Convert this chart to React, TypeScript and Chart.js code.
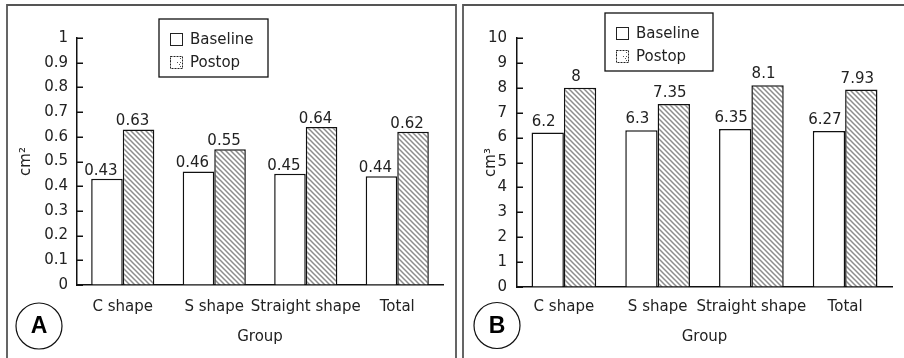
import React, { useEffect, useRef } from "react";
import { Chart, registerables } from "chart.js";

Chart.register(...registerables);

const categories = ["C shape", "S shape", "Straight shape", "Total"];
const seriesNames = ["Baseline", "Postop"];
const areaBaseline = [0.43, 0.46, 0.45, 0.44];
const areaPostop = [0.63, 0.55, 0.64, 0.62];
const volumeBaseline = [6.2, 6.3, 6.35, 6.27];
const volumePostop = [8, 7.35, 8.1, 7.93];
const areaAxis = { min: 0, max: 1, step: 0.1, title: "cm²" };
const volumeAxis = { min: 0, max: 10, step: 1, title: "cm³" };
const xTitle = "Group";

const FONT_FAMILY = '"DejaVu Sans", sans-serif';
const FONT_SIZE = 15;
const TEXT_COLOR = "#222";
const LINE_COLOR = "#111";

function makeHatch(): CanvasPattern | string {
  const c = document.createElement("canvas");
  const s = 5;
  c.width = s;
  c.height = s;
  const g = c.getContext("2d");
  if (!g) return "#ccc";
  g.fillStyle = "#fff";
  g.fillRect(0, 0, s, s);
  g.strokeStyle = "#8c8c8c";
  g.lineWidth = 1.5;
  g.beginPath();
  g.moveTo(-1, -1);
  g.lineTo(s + 1, s + 1);
  g.moveTo(-1 - s, -1);
  g.lineTo(1, s + 1);
  g.moveTo(s - 1, -1);
  g.lineTo(2 * s + 1, s + 1);
  g.stroke();
  const p = g.createPattern(c, "repeat");
  return p || "#ccc";
}

type PanelCfg = {
  letter: string;
  canvasWidth: number;
  frame: { left: number; top: number; right: number | null };
  legend: { x: number; y: number; w: number; h: number };
  circle: { x: number; y: number; r: number };
  labelDx: number;
  labelGap: number;
  plotLeft: number;
  plotRight: number;
  plotTop: number;
  plotBottom: number;
  yTickPad: number;
  yTitlePad: number;
  xTickPad: number;
  xTitlePad: number;
  axis: { min: number; max: number; step: number; title: string };
  baseline: number[];
  postop: number[];
  decimals: number;
};

function makePlugin(cfg: PanelCfg) {
  return {
    id: "panelDecor" + cfg.letter,
    afterDraw(chart: any) {
      const ctx: CanvasRenderingContext2D = chart.ctx;
      const H = chart.height;
      ctx.save();
      // frame
      ctx.strokeStyle = "#555";
      ctx.lineWidth = 1.8;
      ctx.beginPath();
      ctx.moveTo(cfg.frame.left, H + 2);
      ctx.lineTo(cfg.frame.left, cfg.frame.top);
      if (cfg.frame.right !== null) {
        ctx.lineTo(cfg.frame.right, cfg.frame.top);
        ctx.lineTo(cfg.frame.right, H + 2);
      } else {
        ctx.lineTo(chart.width + 2, cfg.frame.top);
      }
      ctx.stroke();

      // inward y ticks
      const ys = chart.scales.y;
      const ax = chart.chartArea.left;
      ctx.strokeStyle = LINE_COLOR;
      ctx.lineWidth = 1.5;
      ctx.beginPath();
      ys.ticks.forEach((_t: any, i: number) => {
        const py = Math.round(ys.getPixelForTick(i)) + 0.25;
        ctx.moveTo(ax, py);
        ctx.lineTo(ax + 6, py);
      });
      ctx.stroke();

      // value labels
      ctx.font = `${FONT_SIZE}px ${FONT_FAMILY}`;
      ctx.fillStyle = TEXT_COLOR;
      ctx.textAlign = "center";
      ctx.textBaseline = "alphabetic";
      chart.data.datasets.forEach((ds: any, di: number) => {
        const meta = chart.getDatasetMeta(di);
        meta.data.forEach((bar: any, i: number) => {
          const v = ds.data[i];
          ctx.fillText(String(v), bar.x + cfg.labelDx, bar.y - cfg.labelGap);
        });
      });

      // legend
      const L = cfg.legend;
      ctx.strokeStyle = "#111";
      ctx.lineWidth = 1.3;
      ctx.fillStyle = "#fff";
      ctx.fillRect(L.x, L.y, L.w, L.h);
      ctx.strokeRect(L.x, L.y, L.w, L.h);
      ctx.textAlign = "left";
      ctx.textBaseline = "middle";
      chart.data.datasets.forEach((ds: any, di: number) => {
        const cy = L.y + 20 + di * 23;
        const ix = L.x + 11;
        const iy = cy - 6;
        ctx.fillStyle = "#fff";
        ctx.fillRect(ix, iy, 12, 12);
        if (di === 1) {
          ctx.fillStyle = "#555";
          for (let yy = 0; yy < 12; yy += 2) {
            for (let xx = (yy / 2) % 2 === 0 ? 0 : 1; xx < 12; xx += 3) {
              if ((xx + yy) % 4 === 0 || xx === yy || xx === yy + 1) ctx.fillRect(ix + xx, iy + yy, 1, 1);
            }
          }
          ctx.setLineDash([2, 1]);
        }
        ctx.strokeStyle = "#222";
        ctx.lineWidth = 1;
        ctx.strokeRect(ix + 0.5, iy + 0.5, 12, 12);
        ctx.setLineDash([]);
        ctx.fillStyle = TEXT_COLOR;
        ctx.fillText(ds.label, L.x + 31, cy + 1);
      });

      // circled letter
      const C = cfg.circle;
      ctx.strokeStyle = "#111";
      ctx.lineWidth = 1.2;
      ctx.beginPath();
      ctx.arc(C.x, C.y, C.r, 0, Math.PI * 2);
      ctx.stroke();
      ctx.fillStyle = "#000";
      ctx.font = `bold 23px "Liberation Sans", Arial, sans-serif`;
      ctx.textAlign = "center";
      ctx.textBaseline = "middle";
      ctx.fillText(cfg.letter, C.x, C.y + 1);
      ctx.restore();
    },
  };
}

function Panel({ cfg, left }: { cfg: PanelCfg; left: number }) {
  const ref = useRef<HTMLCanvasElement>(null);
  useEffect(() => {
    const canvas = ref.current;
    if (!canvas) return;
    const hatch = makeHatch();
    const font = { family: FONT_FAMILY, size: FONT_SIZE };
    const chart = new Chart(canvas, {
      type: "bar",
      data: {
        labels: categories,
        datasets: [
          {
            label: seriesNames[0],
            data: cfg.baseline,
            backgroundColor: "#fff",
            borderColor: LINE_COLOR,
            borderWidth: 1.5,
          },
          {
            label: seriesNames[1],
            data: cfg.postop,
            backgroundColor: hatch as any,
            borderColor: LINE_COLOR,
            borderWidth: 1.5,
          },
        ],
      },
      options: {
        responsive: false,
        animation: false,
        devicePixelRatio: 1,
        layout: {
          padding: {
            left: 0,
            top: cfg.plotTop,
            right: cfg.canvasWidth - cfg.plotRight,
            bottom: 0,
          },
        },
        datasets: { bar: { categoryPercentage: 0.69, barPercentage: 1 } },
        plugins: { legend: { display: false }, tooltip: { enabled: false } },
        scales: {
          x: {
            grid: { display: true, drawOnChartArea: false, drawTicks: false },
            border: { color: LINE_COLOR, width: 1.5 },
            ticks: { padding: cfg.xTickPad, color: TEXT_COLOR, font, maxRotation: 0, autoSkip: false },
            title: {
              display: true,
              text: xTitle,
              color: TEXT_COLOR,
              font,
              padding: { top: 0, bottom: cfg.xTitlePad },
            },
            afterFit: (s: any) => {
              s.height = 358 - cfg.plotBottom;
            },
          },
          y: {
            min: cfg.axis.min,
            max: cfg.axis.max,
            grid: { display: true, drawOnChartArea: false, drawTicks: false },
            border: { color: LINE_COLOR, width: 1.5 },
            ticks: {
              stepSize: cfg.axis.step,
              padding: cfg.yTickPad,
              color: TEXT_COLOR,
              font,
              callback: (v: any) => String(Number(Number(v).toFixed(cfg.decimals))),
            },
            title: {
              display: true,
              text: cfg.axis.title,
              color: TEXT_COLOR,
              font,
              padding: { top: cfg.yTitlePad, bottom: 0 },
            },
            afterFit: (s: any) => {
              s.width = cfg.plotLeft;
            },
          },
        },
      },
      plugins: [makePlugin(cfg)],
    });
    return () => chart.destroy();
  }, []);
  return (
    <canvas
      ref={ref}
      width={cfg.canvasWidth}
      height={358}
      style={{ position: "absolute", left, top: 0, width: cfg.canvasWidth, height: 358 }}
    />
  );
}

const panelA: PanelCfg = {
  letter: "A",
  canvasWidth: 460,
  frame: { left: 7, top: 5, right: 456 },
  legend: { x: 159, y: 19, w: 109, h: 58 },
  circle: { x: 39, y: 326, r: 23 },
  labelDx: -6,
  labelGap: 4,
  plotLeft: 77,
  plotRight: 443,
  plotTop: 38,
  plotBottom: 285,
  yTickPad: 9,
  yTitlePad: 17,
  xTickPad: 13,
  xTitlePad: 12,
  axis: areaAxis,
  baseline: areaBaseline,
  postop: areaPostop,
  decimals: 1,
};

const panelB: PanelCfg = {
  letter: "B",
  canvasWidth: 444,
  frame: { left: 3, top: 5, right: null },
  legend: { x: 145, y: 13, w: 108, h: 58 },
  circle: { x: 37, y: 325.5, r: 23 },
  labelDx: -4,
  labelGap: 7,
  plotLeft: 57,
  plotRight: 432,
  plotTop: 38,
  plotBottom: 287,
  yTickPad: 10,
  yTitlePad: 22,
  xTickPad: 11,
  xTitlePad: 12,
  axis: volumeAxis,
  baseline: volumeBaseline,
  postop: volumePostop,
  decimals: 0,
};

export default function App() {
  return (
    <div
      style={{
        position: "fixed",
        left: 0,
        top: 0,
        width: 904,
        height: 358,
        background: "#fff",
        overflow: "hidden",
      }}
    >
      <Panel cfg={panelA} left={0} />
      <Panel cfg={panelB} left={460} />
    </div>
  );
}
